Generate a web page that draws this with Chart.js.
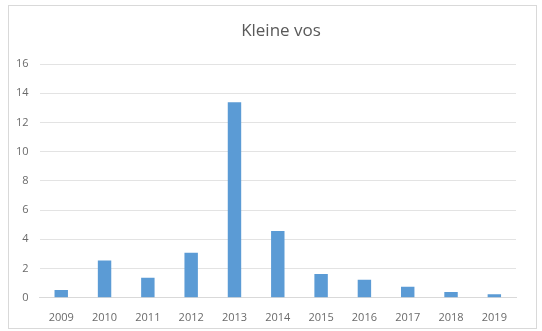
<!DOCTYPE html>
<html>
<head>
<meta charset="utf-8">
<script src="https://cdn.jsdelivr.net/npm/chart.js@4/dist/chart.umd.min.js"></script>
<style>
  html, body { margin: 0; padding: 0; background: #fff; }
  #wrap { position: absolute; left: 0; top: 0; width: 542px; height: 331px; }
  #frame { position: absolute; left: 8px; top: 5px; width: 527px; height: 322px;
           border: 1px solid #d9d9d9; pointer-events: none; }
</style>
</head>
<body>
<div id="wrap"><canvas id="chart" width="542" height="331"></canvas></div>
<div id="frame"></div>
<script>
const years = ["2009", "2010", "2011", "2012", "2013", "2014", "2015", "2016", "2017", "2018", "2019"];
const counts = [0.53, 2.55, 1.38, 3.08, 13.38, 4.57, 1.63, 1.24, 0.76, 0.39, 0.25];
const chartTitle = "Kleine vos";
const yMax = 16;
const yStep = 2;

// title sits a bit right of the plot centre in the original, so draw it ourselves
const titlePlugin = {
  id: "offsetTitle",
  afterDraw(chart) {
    const c = chart.ctx;
    c.save();
    c.font = "17px 'Open Sans'";
    c.fillStyle = "#595959";
    c.textAlign = "center";
    c.textBaseline = "middle";
    c.fillText(chartTitle, 281, 31);
    c.restore();
  }
};

const ctx = document.getElementById("chart").getContext("2d");

new Chart(ctx, {
  type: "bar",
  data: {
    labels: years,
    datasets: [{
      label: chartTitle,
      data: counts,
      backgroundColor: "#5b9bd5",
      borderWidth: 0,
      categoryPercentage: 1,
      barPercentage: 0.31
    }]
  },
  options: {
    responsive: false,
    animation: false,
    layout: { padding: { left: 5, right: 26, top: 64, bottom: 2 } },
    plugins: {
      legend: { display: false },
      tooltip: { enabled: false },
      title: { display: false }
    },
    scales: {
      x: {
        grid: { display: false },
        border: { color: "#d9d9d9" },
        ticks: { color: "#6a6a6a", font: { family: "Open Sans", size: 11 }, padding: 5 }
      },
      y: {
        min: 0,
        max: yMax,
        ticks: { stepSize: yStep, color: "#6a6a6a", font: { family: "Open Sans", size: 11 }, padding: 11 },
        grid: { color: "#e3e3e3", drawTicks: false },
        border: { display: false }
      }
    }
  },
  plugins: [titlePlugin]
});
</script>
</body>
</html>
